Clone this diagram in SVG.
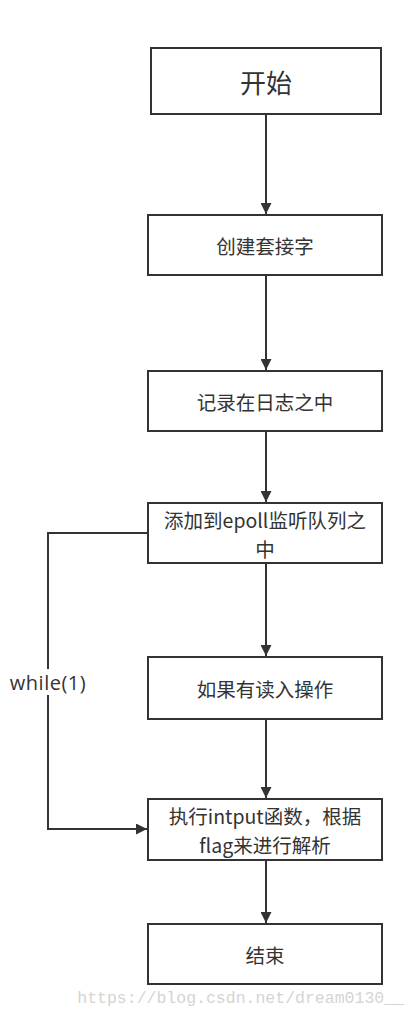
<svg xmlns="http://www.w3.org/2000/svg" width="415" height="1016" viewBox="0 0 415 1016">
<defs>
<style>
.box{fill:#fff;stroke:#333;stroke-width:2}
.t{font-family:"Noto Sans CJK SC","Open Sans",sans-serif;font-size:19.5px;fill:#333;text-anchor:middle;dominant-baseline:central}
.e{fill:none;stroke:#333;stroke-width:2}
</style>
<marker id="ah" viewBox="0 0 10 10" refX="10" refY="5" markerWidth="11" markerHeight="11" markerUnits="userSpaceOnUse" orient="auto">
<path d="M0,0 L10,5 L0,10 z" fill="#333"/>
</marker>
</defs>
<rect width="415" height="1016" fill="#fff"/>
<g id="edges">
<line class="e" x1="266" y1="114" x2="266" y2="214" marker-end="url(#ah)"/>
<line class="e" x1="266" y1="275" x2="266" y2="370" marker-end="url(#ah)"/>
<line class="e" x1="266" y1="431" x2="266" y2="502" marker-end="url(#ah)"/>
<line class="e" x1="266" y1="563" x2="266" y2="656" marker-end="url(#ah)"/>
<line class="e" x1="266" y1="719" x2="266" y2="798" marker-end="url(#ah)"/>
<line class="e" x1="266" y1="860" x2="266" y2="923" marker-end="url(#ah)"/>
<polyline class="e" points="148,533 48,533 48,829 147,829" marker-end="url(#ah)"/>
<rect x="6" y="669" width="86" height="26" fill="#fff"/>
<text x="48" y="682" style="font-family:'Open Sans','Noto Sans',sans-serif;font-size:20px;letter-spacing:0.5px;fill:#333;text-anchor:middle;dominant-baseline:central">while(1)</text>
</g>
<g id="n1"><rect class="box" x="151" y="48" width="230" height="66"/><text class="t" x="266" y="81" style="font-size:26px">开始</text></g>
<g id="n2"><rect class="box" x="148" y="215" width="234" height="60"/><text class="t" x="265" y="245">创建套接字</text></g>
<g id="n3"><rect class="box" x="148" y="371" width="234" height="60"/><text class="t" x="265" y="401">记录在日志之中</text></g>
<g id="n4"><rect class="box" x="148" y="503" width="234" height="60"/><text class="t" x="265" y="519">添加到epoll监听队列之</text><text class="t" x="265" y="548">中</text></g>
<g id="n5"><rect class="box" x="148" y="657" width="234" height="62"/><text class="t" x="265" y="688">如果有读入操作</text></g>
<g id="n6"><rect class="box" x="148" y="799" width="234" height="61"/><text class="t" x="265" y="815">执行intput函数，根据</text><text class="t" x="265" y="844">flag来进行解析</text></g>
<g id="n7"><rect class="box" x="148" y="924" width="234" height="60"/><text class="t" x="265" y="954">结束</text></g>
<text x="404" y="1003" style="font-family:'Liberation Mono',monospace;font-size:16.5px;fill:#d4d4d4;text-anchor:end">https://blog.csdn.net/dream0130__</text>
</svg>
